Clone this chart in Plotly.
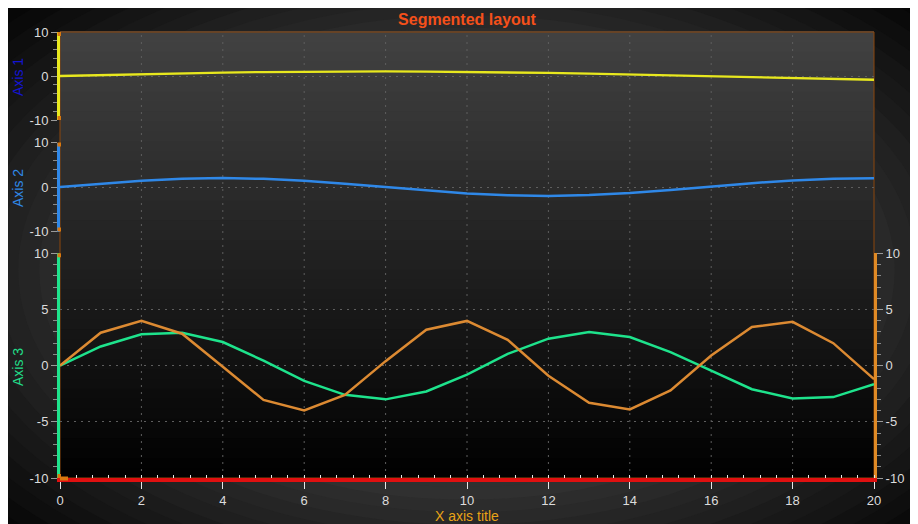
import plotly.graph_objects as go

# ---------------- data ----------------
x_values = list(range(21))
series_axis1 = [0.0, 0.22, 0.44, 0.62, 0.78, 0.9, 0.98, 1.02, 1.03, 1.0, 0.93,
                0.83, 0.7, 0.54, 0.36, 0.16, -0.05, -0.27, -0.48, -0.67, -0.85]
series_axis2 = [0.0, 0.78, 1.43, 1.85, 2.0, 1.83, 1.38, 0.72, -0.05, -0.8, -1.44,
                -1.86, -2.0, -1.82, -1.36, -0.68, 0.1, 0.86, 1.48, 1.88, 1.99]
series_axis3 = [0.0, 1.71, 2.8, 2.92, 2.1, 0.45, -1.35, -2.6, -3.0, -2.3, -0.8,
                1.05, 2.4, 3.0, 2.55, 1.2, -0.45, -2.1, -2.93, -2.8, -1.65]
series_axis4 = [0.0, 2.93, 4.0, 2.84, -0.1, -3.05, -3.98, -2.6, 0.4, 3.2, 3.98,
                2.3, -0.9, -3.3, -3.9, -2.2, 0.9, 3.44, 3.9, 2.0, -1.2]
x_tick_values = list(range(0, 21, 2))
x_tick_labels = [str(v) for v in x_tick_values]
segment_tick_values = [-10, 0, 10]
main_tick_values = [-10, -5, 0, 5, 10]

# ---------------- geometry ----------------
# the page body has an 8px margin, so figure pixel = screen pixel - 8
W, H = 918, 524
OFF = 8
L, R, T, B = 52, 52, 24, 54
PW, PH = W - L - R, H - T - B


def px_x(p):  # screen x -> paper
    return (p - OFF - L) / PW


def px_y(p):  # screen y -> paper
    return (H - B - (p - OFF)) / PH


FONT = "Liberation Sans, Arial, sans-serif"
TICKFONT = dict(family=FONT, size=13, color="#dcdcdc")
GRID = "#5e5e5e"
CAP = "#d8780f"

fig = go.Figure()
fig.add_trace(go.Scatter(x=x_values, y=series_axis1, xaxis="x", yaxis="y",
                         mode="lines", line=dict(color="#e8e81e", width=2.3),
                         showlegend=False, hoverinfo="skip"))
fig.add_trace(go.Scatter(x=x_values, y=series_axis2, xaxis="x", yaxis="y2",
                         mode="lines", line=dict(color="#2f88e8", width=2.5),
                         showlegend=False, hoverinfo="skip"))
fig.add_trace(go.Scatter(x=x_values, y=series_axis3, xaxis="x", yaxis="y3",
                         mode="lines", line=dict(color="#1ee38c", width=2.5),
                         showlegend=False, hoverinfo="skip"))
fig.add_trace(go.Scatter(x=x_values, y=series_axis4, xaxis="x", yaxis="y4",
                         mode="lines", line=dict(color="#dc8a32", width=2.5),
                         showlegend=False, hoverinfo="skip"))

shapes = []
# soft radial glow in the outer background
cx, cy, rx, ry = 467, 270, 470, 280
steps = 16
for i in range(steps):
    d = 1.45 - i * 0.045
    c = int(max(6, min(48, 42 - (d - 0.9) * 75)))
    shapes.append(dict(type="circle", xref="paper", yref="paper", layer="below",
                       x0=px_x(cx - rx * d), x1=px_x(cx + rx * d),
                       y0=px_y(cy + ry * d), y1=px_y(cy - ry * d),
                       fillcolor=f"rgb({c},{c},{c})", line=dict(width=0)))
# vertical gradient inside plot area
N = 45
for i in range(N):
    c = int(round(66 * (i + 0.5) / N))
    shapes.append(dict(type="rect", xref="paper", yref="paper", layer="below",
                       x0=0, x1=1, y0=i / N, y1=(i + 1) / N + 0.002,
                       fillcolor=f"rgb({c},{c},{c})", line=dict(width=0)))
# plot border
shapes.append(dict(type="rect", xref="paper", yref="paper", layer="below",
                   x0=0, x1=1, y0=0, y1=1,
                   fillcolor="rgba(0,0,0,0)", line=dict(color="#8c470c", width=1)))
# vertical grid lines across the whole segmented area
for v in x_tick_values[1:-1]:
    shapes.append(dict(type="line", xref="x", yref="paper", layer="below",
                       x0=v, x1=v, y0=0, y1=1,
                       line=dict(color=GRID, width=1, dash="2px,5px")))

# segment pixel extents (screen)
seg_px = [(32, 120), (142.5, 231.5), (253.3, 478)]
# small orange end caps on the axis lines
for top, bot in seg_px:
    for a, b in ((top, top + 4), (bot - 4, bot)):
        shapes.append(dict(type="rect", xref="paper", yref="paper", layer="above",
                           x0=px_x(57.5), x1=px_x(61), y0=px_y(b), y1=px_y(a),
                           fillcolor=CAP, line=dict(width=0)))
shapes.append(dict(type="rect", xref="paper", yref="paper", layer="above",
                   x0=px_x(60), x1=px_x(68), y0=px_y(480.5), y1=px_y(476.5),
                   fillcolor=CAP, line=dict(width=0)))

annotations = [
    dict(text="Axis 1", xref="paper", yref="paper", x=px_x(18), y=px_y(77),
         textangle=-90, showarrow=False, xanchor="center", yanchor="middle",
         font=dict(family=FONT, size=14, color="#1414d2")),
    dict(text="Axis 2", xref="paper", yref="paper", x=px_x(18), y=px_y(188),
         textangle=-90, showarrow=False, xanchor="center", yanchor="middle",
         font=dict(family=FONT, size=14, color="#2f88e8")),
    dict(text="Axis 3", xref="paper", yref="paper", x=px_x(18), y=px_y(367),
         textangle=-90, showarrow=False, xanchor="center", yanchor="middle",
         font=dict(family=FONT, size=14, color="#22db88")),
    dict(text="Axis 4", xref="paper", yref="paper", x=px_x(913), y=px_y(365),
         textangle=-90, showarrow=False, xanchor="left", yanchor="middle",
         font=dict(family=FONT, size=14, color="#e08a25")),
    dict(text="X axis title", xref="paper", yref="paper", x=0.5, y=px_y(516),
         showarrow=False, xanchor="center", yanchor="middle",
         font=dict(family=FONT, size=14, color="#e8a317")),
]


def seg_axis(domain, color, tickvals, minor_dtick):
    return dict(domain=domain, range=[-10, 10], anchor="x",
                tickmode="array", tickvals=tickvals,
                ticktext=[str(v) for v in tickvals],
                tickfont=TICKFONT, ticks="outside", ticklen=6,
                tickcolor="#9a9a9a", tickwidth=1,
                minor=dict(dtick=minor_dtick, tick0=0, ticks="outside", ticklen=4,
                           tickcolor="#8a8a8a", tickwidth=1, showgrid=False),
                showline=True, linecolor=color, linewidth=3,
                showgrid=True, gridcolor=GRID, griddash="2px,5px", gridwidth=1,
                zeroline=False, fixedrange=True)


layout_y1 = seg_axis([px_y(seg_px[0][1]), 1.0], "#e8e81e", segment_tick_values, 2)
layout_y2 = seg_axis([px_y(seg_px[1][1]), px_y(seg_px[1][0])], "#2f88e8",
                     segment_tick_values, 2)
layout_y3 = seg_axis([0.0, px_y(seg_px[2][0])], "#1ee38c", main_tick_values, 1)
layout_y4 = seg_axis([0.0, px_y(seg_px[2][0])], "#e08a25", main_tick_values, 1)
layout_y4.update(overlaying="y3", side="right", showgrid=False)
layout_y4.pop("domain")

fig.update_layout(
    width=W, height=H,
    margin=dict(l=L, r=R, t=T, b=B, autoexpand=False),
    paper_bgcolor="#0a0a0a", plot_bgcolor="rgba(0,0,0,0)",
    title=dict(text="<b>Segmented layout</b>", x=0.5, xanchor="center",
               xref="paper", y=1 - (19 - OFF) / H, yref="container", yanchor="middle",
               font=dict(family=FONT, size=16, color="#f5501a")),
    xaxis=dict(domain=[0, 1], range=[0, 20], anchor="y3",
               tickmode="array", tickvals=x_tick_values, ticktext=x_tick_labels,
               tickfont=TICKFONT, ticks="outside", ticklen=7, tickcolor="#e6e6e6",
               minor=dict(dtick=0.4, tick0=0, ticks="inside", ticklen=3,
                          tickcolor="#e6e6e6", showgrid=False),
               showline=True, linecolor="#e01010", linewidth=4,
               showgrid=False, zeroline=False, fixedrange=True),
    yaxis=layout_y1, yaxis2=layout_y2, yaxis3=layout_y3, yaxis4=layout_y4,
    shapes=shapes, annotations=annotations, showlegend=False,
)

fig.write_html("out.html")
